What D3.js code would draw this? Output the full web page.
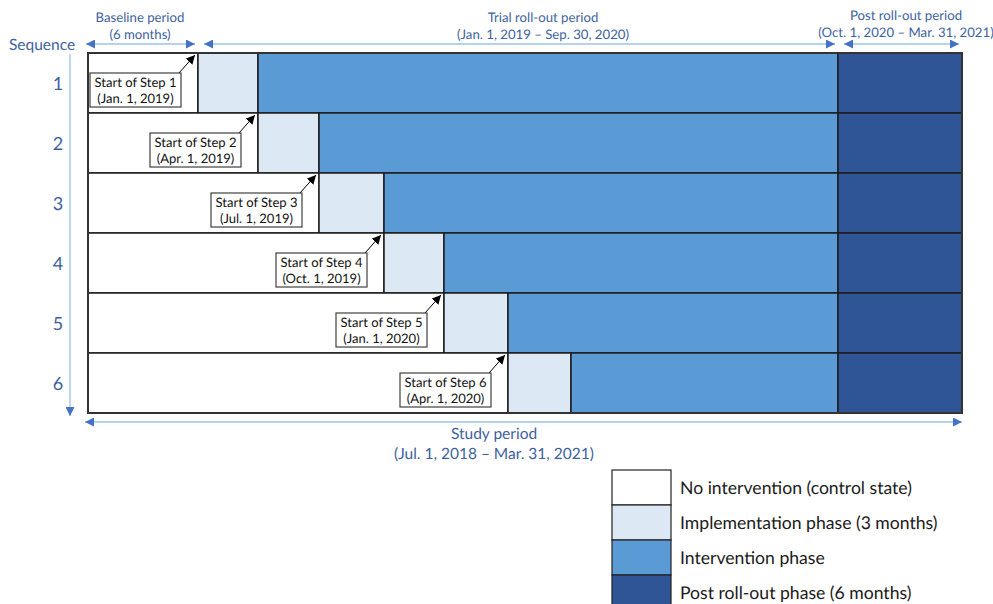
<!DOCTYPE html>
<html><head><meta charset="utf-8">
<script src="https://cdn.jsdelivr.net/npm/d3@7"></script>
<style>html,body{margin:0;padding:0;background:#fff;}svg{display:block;}svg text{text-rendering:geometricPrecision;}</style>
</head><body>
<script>
// ---- data ----
const sequences = [1, 2, 3, 4, 5, 6];
// quarter index (0 = Jul. 1, 2018) when each sequence's step starts
const stepStart = [2, 3, 4, 5, 6, 7];
const implQuarters = 1;          // implementation phase length (quarters)
const postStart = 9;             // Oct. 1, 2020
const studyEnd = 11;             // Mar. 31, 2021
const stepTitles = ["Start of Step 1", "Start of Step 2", "Start of Step 3", "Start of Step 4", "Start of Step 5", "Start of Step 6"];
const stepDates = ["(Jan. 1, 2019)", "(Apr. 1, 2019)", "(Jul. 1, 2019)", "(Oct. 1, 2019)", "(Jan. 1, 2020)", "(Apr. 1, 2020)"];
const periodNames = ["Baseline  period", "Trial roll-out period", "Post roll-out period"];
const periodDates = ["(6 months)", "(Jan. 1, 2019 \u2013 Sep. 30, 2020)", "(Oct. 1, 2020 \u2013 Mar. 31, 2021)"];
const periodBounds = [[0, 2], [2, 9], [9, 11]];
const studyLabel = ["Study period", "(Jul. 1, 2018 \u2013 Mar. 31, 2021)"];
const legendLabels = ["No intervention (control state)", "Implementation phase (3 months)", "Intervention phase", "Post roll-out phase (6 months)"];
const phaseColors = ["#ffffff", "#dde8f5", "#5b9bd5", "#2f5597"];

// ---- layout ----
const W = 993, H = 604;
const font = "Lato, 'Open Sans', sans-serif";
const textBlue = "#3d5f9e";
const svg = d3.select("body").append("svg").attr("width", W).attr("height", H);

// schematic (not to scale) piecewise time scale
const x = d3.scaleLinear()
  .domain([0, 2, 3, 4, 5, 6, 7, 8, 9, 11])
  .range([88, 198, 258, 319, 384, 444, 508, 571, 838, 962]);
const y = d3.scaleBand().domain(sequences).range([53, 413]).padding(0);

const defs = svg.append("defs");
function marker(id, color, size) {
  defs.append("marker").attr("id", id).attr("viewBox", "0 0 10 10")
    .attr("refX", 10).attr("refY", 5).attr("markerWidth", size).attr("markerHeight", size)
    .attr("markerUnits", "userSpaceOnUse").attr("orient", "auto-start-reverse")
    .append("path").attr("d", "M0,0L10,5L0,10Z").attr("fill", color);
}
marker("blueArrow", "#4472c4", 9);
marker("blackArrow", "#000", 9);

// ---- cells ----
const cells = [];
sequences.forEach((s, i) => {
  const st = stepStart[i];
  cells.push({ s, a: 0, b: st, c: 0 });
  cells.push({ s, a: st, b: st + implQuarters, c: 1 });
  cells.push({ s, a: st + implQuarters, b: postStart, c: 2 });
  cells.push({ s, a: postStart, b: studyEnd, c: 3 });
});
svg.append("g").selectAll("rect").data(cells).join("rect")
  .attr("x", d => x(d.a)).attr("y", d => y(d.s))
  .attr("width", d => x(d.b) - x(d.a)).attr("height", y.bandwidth())
  .attr("fill", d => phaseColors[d.c])
  .attr("stroke", "#1c1c1c").attr("stroke-width", 1.5);
svg.append("rect").attr("x", x(0)).attr("y", y.range()[0])
  .attr("width", x(studyEnd) - x(0)).attr("height", y.range()[1] - y.range()[0])
  .attr("fill", "none").attr("stroke", "#333").attr("stroke-width", 2);

// ---- step annotations ----
const ann = svg.append("g");
sequences.forEach((s, i) => {
  const bx = x(stepStart[i]);
  const right = bx - 17, w = 91, top = y(s) + 20, h = 34;
  ann.append("line").attr("x1", right - 2).attr("y1", top)
    .attr("x2", bx - 3).attr("y2", y(s) + 2)
    .attr("stroke", "#000").attr("stroke-width", 1).attr("marker-end", "url(#blackArrow)");
  ann.append("rect").attr("x", right - w).attr("y", top).attr("width", w).attr("height", h)
    .attr("fill", "#fff").attr("stroke", "#404040").attr("stroke-width", 1.2);
  ann.append("text").attr("x", right - w / 2).attr("y", top + 14).attr("text-anchor", "middle")
    .attr("font-family", font).attr("font-size", 13).attr("fill", "#111").text(stepTitles[i]);
  ann.append("text").attr("x", right - w / 2).attr("y", top + 30).attr("text-anchor", "middle")
    .attr("font-family", font).attr("font-size", 13).attr("fill", "#111").text(stepDates[i]);
});

// ---- sequence labels ----
svg.append("g").selectAll("text").data(sequences).join("text")
  .attr("x", 58).attr("y", d => y(d) + y.bandwidth() / 2 + 7)
  .attr("text-anchor", "middle").attr("font-family", font).attr("font-size", 18)
  .attr("fill", textBlue).text(d => d);
svg.append("text").attr("x", 9).attr("y", 50).attr("font-family", font).attr("font-size", 15.5)
  .attr("fill", textBlue).text("Sequence");
svg.append("line").attr("x1", 70).attr("y1", 54).attr("x2", 70).attr("y2", 416)
  .attr("stroke", "#9dc3e6").attr("stroke-width", 1.3).attr("marker-end", "url(#blueArrow)");

// ---- period headers ----
const ph = svg.append("g");
periodBounds.forEach((pb, i) => {
  const x0 = x(pb[0]), x1 = x(pb[1]);
  const cx = i === 0 ? (x0 + x1) / 2 - 3 : i === 1 ? 543 : 906;
  ph.append("line").attr("x1", x0 - 2 + (i ? 8 : 0)).attr("y1", 44).attr("x2", x1 - 3).attr("y2", 44)
    .attr("stroke", "#9dc3e6").attr("stroke-width", 1.3)
    .attr("marker-start", "url(#blueArrow)").attr("marker-end", "url(#blueArrow)");
  ph.append("text").attr("x", cx).attr("y", i === 2 ? 20 : 22).attr("text-anchor", "middle")
    .attr("font-family", font).attr("font-size", 13.2).attr("fill", textBlue).text(periodNames[i]);
  ph.append("text").attr("x", cx).attr("y", i === 2 ? 37 : 38.5).attr("text-anchor", "middle")
    .attr("font-family", font).attr("font-size", 13.2).attr("fill", textBlue).text(periodDates[i]);
});

// ---- study period ----
svg.append("line").attr("x1", x(0) - 3).attr("y1", 422).attr("x2", x(studyEnd)).attr("y2", 422)
  .attr("stroke", "#9dc3e6").attr("stroke-width", 1.3)
  .attr("marker-start", "url(#blueArrow)").attr("marker-end", "url(#blueArrow)");
studyLabel.forEach((t, i) => {
  svg.append("text").attr("x", 494).attr("y", 439 + i * 20).attr("text-anchor", "middle")
    .attr("font-family", font).attr("font-size", 15.5).attr("fill", textBlue).text(t);
});

// ---- legend ----
const lg = svg.append("g");
legendLabels.forEach((t, i) => {
  lg.append("rect").attr("x", 612).attr("y", 470 + i * 35).attr("width", 59).attr("height", 35)
    .attr("fill", phaseColors[i]).attr("stroke", "#222").attr("stroke-width", 1.2);
  lg.append("text").attr("x", 680).attr("y", 494 + i * 35)
    .attr("font-family", font).attr("font-size", 17.6).attr("fill", "#1a1a1a").text(t);
});
</script>
</body></html>
